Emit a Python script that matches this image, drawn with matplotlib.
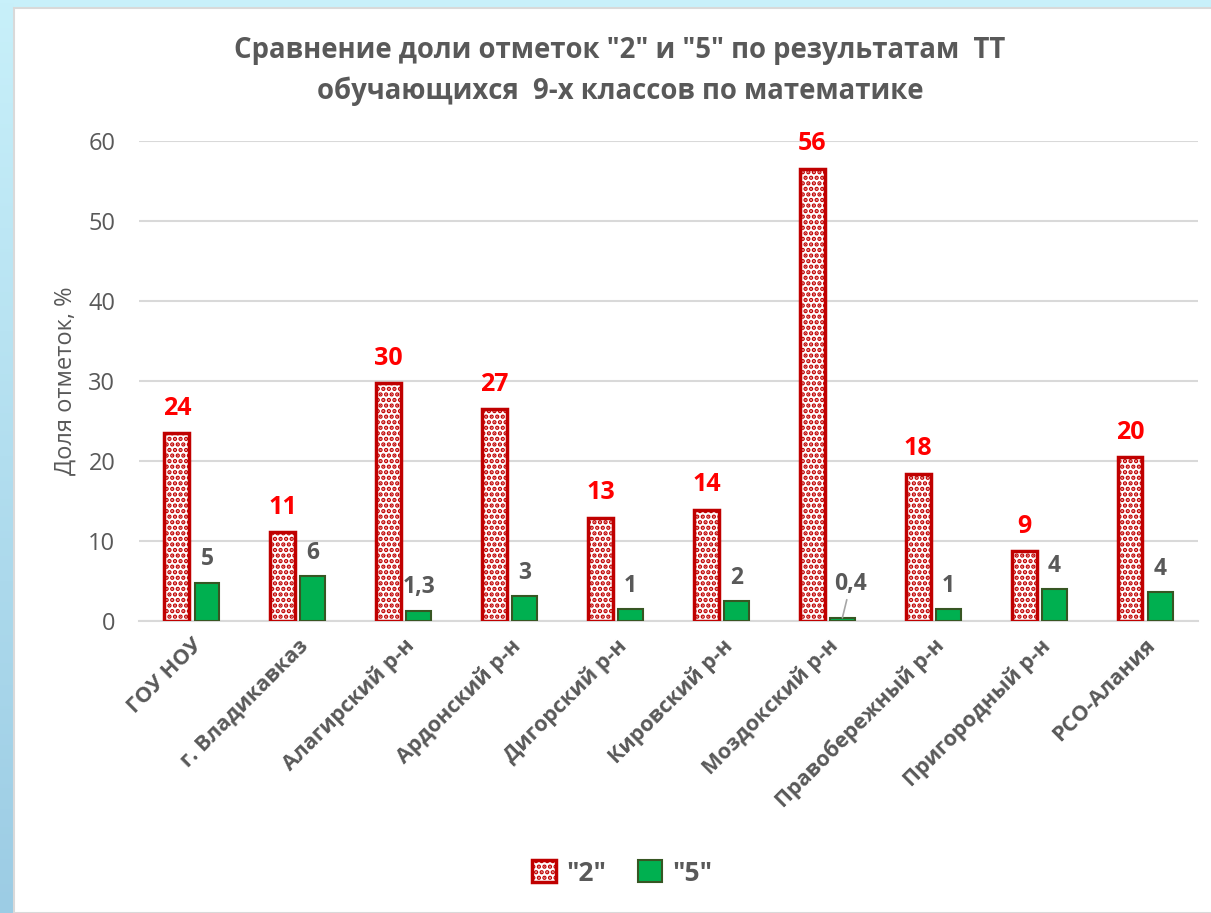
import numpy as np
import matplotlib
matplotlib.use('Agg')
import matplotlib.pyplot as plt
from matplotlib.patches import Rectangle

# данные (доли отметок, %)
categories = ['ГОУ НОУ', 'г. Владикавказ', 'Алагирский р-н', 'Ардонский р-н',
              'Дигорский р-н', 'Кировский р-н', 'Моздокский р-н',
              'Правобережный р-н', 'Пригородный р-н', 'РСО-Алания']
vals_2 = [23.5, 11.1, 29.7, 26.5, 12.9, 13.9, 56.5, 18.4, 8.7, 20.5]
vals_5 = [4.8, 5.6, 1.3, 3.1, 1.5, 2.5, 0.4, 1.5, 4.0, 3.6]
labels_2 = ['24', '11', '30', '27', '13', '14', '56', '18', '9', '20']
labels_5 = ['5', '6', '1,3', '3', '1', '2', '0,4', '1', '4', '4']

plt.rcParams['font.family'] = ['Open Sans', 'DejaVu Sans']
plt.rcParams['hatch.linewidth'] = 2.2
GREY = '#595959'

fig = plt.figure(figsize=(12.11, 9.13), dpi=100)
W, H = 1211, 913

# голубая рамка слайда
fig.patches.append(Rectangle((0, 0), 1, 1, transform=fig.transFigure,
                             facecolor='#C8F0FA', edgecolor='none', zorder=-3))
grad_ax = fig.add_axes([0, 0, 14 / W, 1], zorder=-2)
grad = np.linspace(0, 1, 256).reshape(-1, 1)
grad_ax.imshow(grad, aspect='auto', cmap=plt.matplotlib.colors.LinearSegmentedColormap.from_list(
    'bl', ['#9CCCE4', '#C8F0FA']), extent=[0, 1, 0, 1], origin='lower')
grad_ax.axis('off')
fig.patches.append(Rectangle((14 / W, 0), 1, (H - 8) / H, transform=fig.transFigure,
                             facecolor='white', edgecolor='#D9D9D9', linewidth=1.5, zorder=-1))

ax = fig.add_axes([139 / W, (H - 621) / H, (1198 - 139) / W, 480 / H])
ax.set_facecolor('none')

x = np.arange(len(categories))
w = 0.235
off = 0.142
b2 = ax.bar(x - off, vals_2, w, facecolor='white', edgecolor='#C00000',
            hatch='...', linewidth=2.5, label='"2"', zorder=3)
b5 = ax.bar(x + off, vals_5, w, color='#00B050', edgecolor='#375623',
            linewidth=1.5, label='"5"', zorder=3)

for xi, v, t in zip(x, vals_2, labels_2):
    ax.annotate(t, (xi - off, v), xytext=(0, 9), textcoords='offset points',
                ha='center', va='bottom', color='#FF0000', fontsize=18, fontweight='bold')
for xi, v, t in zip(x, vals_5, labels_5):
    if t == '0,4':
        ax.annotate(t, (xi + off, v), xytext=(6, 16), textcoords='offset points',
                    ha='center', va='bottom', color=GREY, fontsize=16.5, fontweight='bold',
                    arrowprops=dict(arrowstyle='-', color='#A6A6A6', lw=1.2,
                                    shrinkA=1, shrinkB=0))
    else:
        ax.annotate(t, (xi + off, v), xytext=(0, 8), textcoords='offset points',
                    ha='center', va='bottom', color=GREY, fontsize=16.5, fontweight='bold')

ax.set_xlim(-0.5, len(categories) - 0.5)
ax.set_ylim(0, 60)
ax.set_yticks(range(0, 61, 10))
ax.yaxis.grid(True, color='#D9D9D9', linewidth=1.5, zorder=0)
ax.set_axisbelow(True)
for s in ['top', 'right', 'left']:
    ax.spines[s].set_visible(False)
ax.spines['bottom'].set_color('#D9D9D9')
ax.spines['bottom'].set_linewidth(1.5)
ax.tick_params(axis='y', length=0, labelsize=17, labelcolor=GREY, pad=17)
ax.tick_params(axis='x', length=0, pad=10)
ax.set_xticks(x)
ax.set_xticklabels(categories, rotation=45, ha='right', rotation_mode='anchor',
                   fontsize=15.5, fontweight='bold', color=GREY)
ax.set_ylabel('Доля отметок, %', fontsize=17, color=GREY, labelpad=8)

fig.text(620 / W, 1 - 71 / H, 'Сравнение доли отметок "2" и "5" по результатам  ТТ\nобучающихся  9-х классов по математике',
         ha='center', va='center', fontsize=19.8, fontweight='bold', color=GREY, linespacing=1.5)

fig.legend(handles=[b2, b5], loc='center', bbox_to_anchor=(622 / W, 1 - 873 / H), ncol=2,
           frameon=False, prop={'weight': 'bold', 'size': 19},
           handlelength=0.9, handleheight=0.9, columnspacing=1.2, handletextpad=0.4,
           labelcolor=GREY)

fig.savefig('out.png', dpi=100)
